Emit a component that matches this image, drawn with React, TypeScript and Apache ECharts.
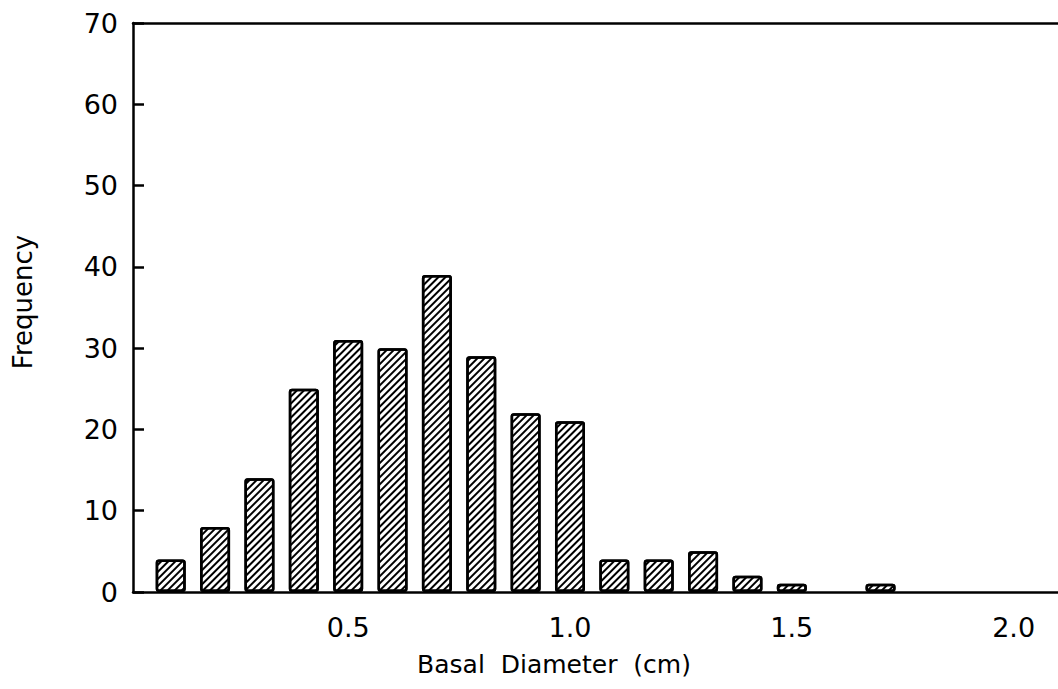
import React, { useEffect, useRef } from "react";
import * as echarts from "echarts";

const diameters = [0.1, 0.2, 0.3, 0.4, 0.5, 0.6, 0.7, 0.8, 0.9, 1.0, 1.1, 1.2, 1.3, 1.4, 1.5, 1.7];
const frequencies = [4, 8, 14, 25, 31, 30, 39, 29, 22, 21, 4, 4, 5, 2, 1, 1];
const xTickLabels = [0.5, 1.0, 1.5, 2.0];
const yTicks = [0, 10, 20, 30, 40, 50, 60, 70];

const FONT = "'DejaVu Sans', sans-serif";

export default function App() {
  const ref = useRef<HTMLDivElement>(null);
  useEffect(() => {
    if (!ref.current) return;
    const chart = echarts.init(ref.current, null, { renderer: "svg" });
    const data = diameters.map((d, i) => [d, frequencies[i]]);
    chart.setOption({
      animation: false,
      backgroundColor: "#fff",
      grid: { left: 133, right: 0, top: 23, bottom: 97, containLabel: false },
      xAxis: [
        {
          type: "value",
          min: 0.015,
          max: 2.1,
          position: "bottom",
          splitLine: { show: false },
          axisLine: { show: true, lineStyle: { color: "#000", width: 2.5 } },
          axisTick: { show: false },
          axisLabel: {
            customValues: xTickLabels,
            formatter: (v: number) => v.toFixed(1),
            color: "#000",
            fontFamily: FONT,
            fontSize: 27,
            margin: 22,
          },
        },
        {
          type: "value",
          min: 0.015,
          max: 2.1,
          position: "top",
          splitLine: { show: false },
          axisLine: { show: true, onZero: false, lineStyle: { color: "#000", width: 2.5 } },
          axisTick: { show: false },
          axisLabel: { show: false },
        },
      ],
      yAxis: {
        type: "value",
        min: 0,
        max: 70,
        interval: 10,
        splitLine: { show: false },
        axisLine: { show: true, lineStyle: { color: "#000", width: 2.5 } },
        axisTick: { show: true, inside: true, length: 11, lineStyle: { color: "#000", width: 2.5 } },
        axisLabel: {
          color: "#000",
          fontFamily: FONT,
          fontSize: 27,
          margin: 15,
          formatter: (v: number) => (yTicks.includes(v) ? String(v) : ""),
        },
      },
      graphic: [
        {
          type: "text",
          x: 554,
          y: 664,
          style: {
            text: "Basal  Diameter  (cm)",
            fontFamily: FONT,
            fontSize: 25,
            fill: "#000",
            align: "center",
            verticalAlign: "middle",
          },
        },
        {
          type: "text",
          x: 23,
          y: 302,
          rotation: Math.PI / 2,
          style: {
            text: "Frequency",
            fontFamily: FONT,
            fontSize: 26,
            fill: "#000",
            align: "center",
            verticalAlign: "middle",
          },
        },
      ],
      series: [
        {
          type: "bar",
          xAxisIndex: 0,
          data,
          barWidth: 30,
          itemStyle: {
            color: "#fff",
            borderColor: "#000",
            borderWidth: 2.5,
            borderRadius: 2,
            decal: {
              symbol: "rect",
              color: "#000",
              dashArrayX: [1, 0],
              dashArrayY: [1.4, 2.2],
              rotation: -Math.PI / 4,
              symbolSize: 1,
            },
          },
        },
      ],
    });
    return () => chart.dispose();
  }, []);
  return (
    <div
      ref={ref}
      style={{ position: "fixed", left: 0, top: 0, width: 1058, height: 689 }}
    />
  );
}
